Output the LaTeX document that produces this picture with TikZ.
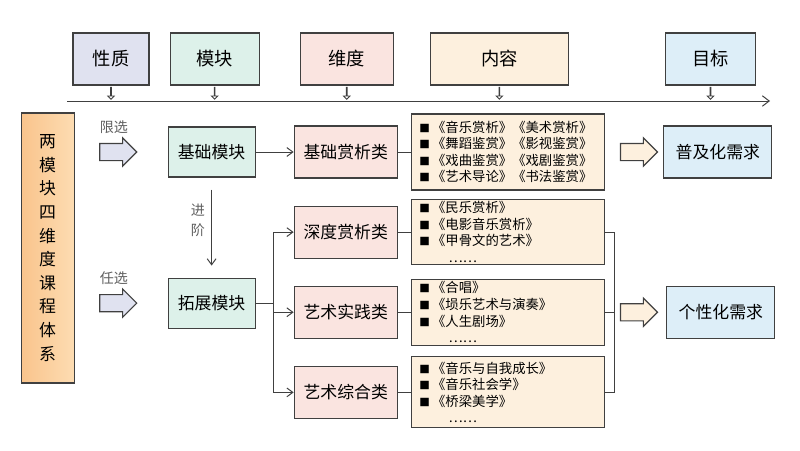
\documentclass[tikz,border=0pt]{standalone}
\usepackage{fontspec}
\setmainfont{Noto Sans CJK SC}
\usepackage{tikz}
\usetikzlibrary{arrows.meta, positioning, shapes.arrows}
\definecolor{linegray}{RGB}{64, 64, 64}
\definecolor{labelgray}{RGB}{95, 95, 95}
\definecolor{propblue}{RGB}{224, 226, 240}
\definecolor{modgreen}{RGB}{221, 241, 234}
\definecolor{dimpink}{RGB}{250, 228, 224}
\definecolor{contcream}{RGB}{253, 240, 222}
\definecolor{goalblue}{RGB}{221, 238, 248}
\definecolor{orangeL}{RGB}{249, 196, 140}
\definecolor{orangeR}{RGB}{253, 220, 178}
\newcommand{\sqbul}{{\fontsize{7.5}{7.5}\selectfont ■}\,}

\begin{document}
\begin{tikzpicture}[
    node distance=0.5cm and 0.5cm,
    topbox/.style={
      rectangle,
      draw=linegray,
      line width=0.8pt,
      minimum height=1.3cm,
      font=\fontsize{13}{15}\selectfont
    },
    hollow/.style={
      single arrow,
      draw=linegray,
      fill=white,
      line width=0.6pt,
      shape border rotate=270,
      single arrow tip angle=90,
      single arrow head extend=0.07cm,
      minimum height=0.3cm,
      inner xsep=0pt,
      inner ysep=0.06cm
    },
    system/.style={
      rectangle,
      draw=linegray,
      line width=0.8pt,
      left color=orangeL,
      right color=orangeR,
      minimum width=1.325cm,
      minimum height=6.75cm,
      align=center,
      font=\fontsize{12}{16.8}\selectfont
    },
    module/.style={
      rectangle,
      draw=linegray,
      fill=modgreen,
      line width=0.8pt,
      minimum width=2.175cm,
      minimum height=1.25cm,
      font=\fontsize{12}{14}\selectfont
    },
    category/.style={
      rectangle,
      draw=linegray,
      fill=dimpink,
      line width=0.8pt,
      minimum width=2.575cm,
      minimum height=1.3cm,
      font=\fontsize{12}{14}\selectfont
    },
    content/.style={
      rectangle,
      draw=linegray,
      fill=contcream,
      line width=0.8pt,
      text width=4.425cm,
      inner xsep=0.2cm,
      inner ysep=0pt,
      align=left,
      font=\fontsize{9.5}{11.8}\selectfont
    },
    goal/.style={
      rectangle,
      draw=linegray,
      fill=goalblue,
      line width=0.8pt,
      minimum width=2.7cm,
      minimum height=1.3cm,
      font=\fontsize{12}{14}\selectfont
    },
    blockarrow/.style={
      single arrow,
      draw=linegray,
      line width=0.8pt,
      single arrow tip angle=90,
      single arrow head extend=0.14cm,
      minimum height=0.925cm,
      inner xsep=0pt,
      inner ysep=0.2cm
    },
    tag/.style={
      text=labelgray,
      inner sep=1pt,
      font=\fontsize{10}{14}\selectfont
    },
    arrow/.style={
      -{Straight Barb[length=1.5mm, width=2.2mm]},
      line width=0.7pt,
      linegray
    },
    link/.style={
      line width=0.7pt,
      linegray
    },
    timeline/.style={
      -{Straight Barb[length=1.7mm, width=2.6mm]},
      line width=0.7pt,
      linegray
    }
  ]
    \useasboundingbox (0,0) rectangle (20,-11.25);

    % Header row
    \node[topbox, fill=propblue, minimum width=1.9cm] (t1) at (2.775,-1.475) {性质};
    \node[topbox, fill=modgreen, minimum width=2.225cm, right=0.5cm of t1] (t2) {模块};
    \node[topbox, fill=dimpink, minimum width=2.325cm, right=1.0cm of t2] (t3) {维度};
    \node[topbox, fill=contcream, minimum width=3.45cm, right=0.9cm of t3] (t4) {内容};
    \node[topbox, fill=goalblue, minimum width=2.25cm, right=2.4cm of t4] (t5) {目标};

    % Timeline
    \coordinate (droprow) at (0,-2.325);
    \coordinate (tlstart) at (1.675,-2.525);
    \coordinate (tlend) at (19.25,-2.525);
    \foreach \t in {t1,t2,t3,t4,t5}
      \node[hollow] (d\t) at (\t |- droprow) {};
    \draw[timeline] (tlstart) -- (tlend);

    % Left column
    \node[system] (sys) at (1.19,-6.2) {两\\模\\块\\四\\维\\度\\课\\程\\体\\系};

    \node[module] (m1) at (5.29,-3.8) {基础模块};
    \node[module, below=2.5cm of m1] (m2) {拓展模块};

    \node[blockarrow, fill=propblue, left=0.75cm of m1] (a1) {};
    \node[blockarrow, fill=propblue, left=0.75cm of m2] (a2) {};
    \node[tag, above=0.42cm of a1.center] (lim) {限选};
    \node[tag, above=0.42cm of a2.center] (opt) {任选};
    \node[tag, align=center] (adv) at (4.95,-5.5) {进\\阶};

    % Categories
    \node[category, right=0.95cm of m1] (k1) {基础赏析类};
    \node[category, below=0.675cm of k1] (k2) {深度赏析类};
    \node[category, below=0.675cm of k2] (k3) {艺术实践类};
    \node[category, below=0.675cm of k3] (k4) {艺术综合类};

    % Course lists
    \node[content, minimum height=1.9cm, right=0.325cm of k1] (c1) {
      \sqbul《音乐赏析》《美术赏析》\\
      \sqbul《舞蹈鉴赏》《影视鉴赏》\\
      \sqbul《戏曲鉴赏》《戏剧鉴赏》\\
      \sqbul《艺术导论》《书法鉴赏》
    };
    \node[content, minimum height=1.625cm, right=0.325cm of k2] (c2) {
      \sqbul《民乐赏析》\\
      \sqbul《电影音乐赏析》\\
      \sqbul《甲骨文的艺术》\\
      \hspace*{2.2em}……
    };
    \node[content, minimum height=1.65cm, right=0.325cm of k3] (c3) {
      \sqbul《合唱》\\
      \sqbul《埙乐艺术与演奏》\\
      \sqbul《人生剧场》\\
      \hspace*{2.2em}……
    };
    \node[content, minimum height=1.775cm, right=0.325cm of k4] (c4) {
      \sqbul《音乐与自我成长》\\
      \sqbul《音乐社会学》\\
      \sqbul《桥梁美学》\\
      \hspace*{2.2em}……
    };

    % Goals
    \node[blockarrow, fill=contcream, right=0.375cm of c1] (a3) {};
    \node[goal, right=0.125cm of a3] (g1) {普及化需求};
    \coordinate[right=0.25cm of c3.east] (join);
    \node[blockarrow, fill=contcream, right=0.125cm of join] (a4) {};
    \node[goal, right=0.2cm of a4] (g2) {个性化需求};

    % Connections
    \draw[arrow] (m1) -- (k1);
    \draw[arrow, shorten <=0.3cm, shorten >=0.3cm] (m1) -- (m2);
    \coordinate[right=0.45cm of m2.east] (split);
    \draw[link] (m2) -- (split);
    \draw[arrow] (split) |- (k2);
    \draw[arrow] (split) |- (k3);
    \draw[arrow] (split) |- (k4);
    \draw[link] (k1) -- (c1);
    \draw[link] (k2) -- (c2);
    \draw[link] (k3) -- (c3);
    \draw[link] (k4) -- (c4);
    \draw[link] (c2) -| (join) |- (c4);
    \draw[link] (c3) -- (join);

  \end{tikzpicture}
\end{document}
